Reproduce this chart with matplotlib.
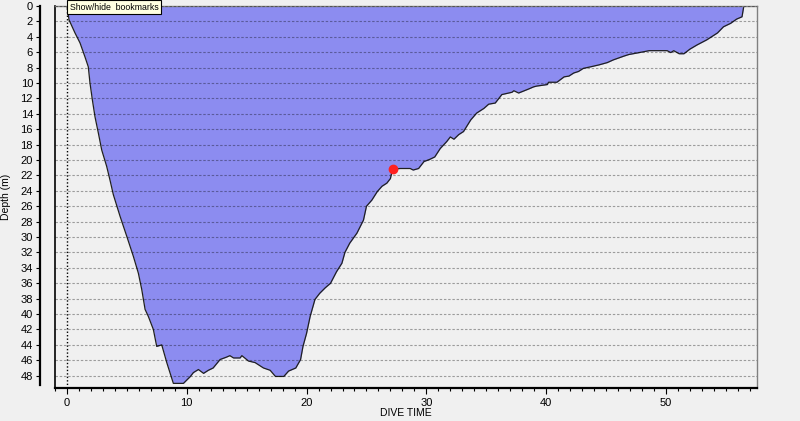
import matplotlib
matplotlib.use("Agg")
import matplotlib.pyplot as plt
from matplotlib.ticker import MultipleLocator
from matplotlib.lines import Line2D

plt.rcParams['font.family'] = ['Liberation Sans', 'DejaVu Sans']

# dive profile (minutes, metres)
dive_time = [0, 0.1, 0.17, 0.67, 1.09, 1.5, 1.78, 1.92, 2.12, 2.34, 2.62, 2.9, 3.31, 3.59, 3.87,
             4.43, 4.99, 5.54, 5.96, 6.24, 6.52, 6.79, 7.21, 7.49, 7.91, 8.33, 8.88, 9.72, 10.3,
             10.55, 10.97, 11.4, 11.8, 12.2, 12.78, 13.3, 13.6, 13.9, 14.45, 14.6, 15.15, 15.7,
             16.4, 16.96, 17.4, 18.1, 18.5, 19.1, 19.5, 19.7, 20.0, 20.3, 20.7, 21.1, 21.55,
             22.0, 22.5, 22.95, 23.2, 23.6, 24.2, 24.75, 25.0, 25.45, 25.9, 26.3, 26.7, 27.0,
             27.1, 27.25, 27.8, 28.65, 28.9, 29.35, 29.8, 30.3, 30.7, 31.16, 31.7, 32.0, 32.3,
             32.7, 33.1, 33.7, 34.2, 34.8, 35.2, 35.75, 36.3, 37.15, 37.3, 37.7, 38.5, 38.95,
             39.2, 40.1, 40.2, 40.9, 41.5, 41.9, 42.3, 42.7, 43.1, 43.7, 44.4, 45.1, 45.6,
             46.5, 46.9, 47.6, 48.6, 50.1, 50.4, 50.65, 51.1, 51.5, 52.0, 52.6, 53.4, 54.3,
             54.8, 55.4, 55.9, 56.35, 56.5]
depth = [0, 1.0, 1.8, 3.5, 4.8, 6.6, 7.9, 10.0, 12.2, 14.4, 16.5, 18.7, 20.8, 22.6, 24.5,
         27.3, 29.9, 32.5, 34.7, 36.8, 39.4, 40.3, 42.0, 44.2, 44.0, 46.3, 49.0, 49.0, 48.1,
         47.6, 47.2, 47.7, 47.3, 47.0, 45.9, 45.6, 45.4, 45.7, 45.7, 45.4, 46.1, 46.3,
         47.0, 47.3, 48.1, 48.1, 47.4, 47.0, 45.9, 44.2, 42.5, 40.3, 38.1, 37.3, 36.6,
         36.0, 34.5, 33.4, 32.0, 30.8, 29.5, 27.8, 26.0, 25.2, 24.1, 23.4, 23.0, 22.4,
         21.7, 21.2, 21.1, 21.1, 21.3, 21.1, 20.2, 19.9, 19.6, 18.5, 17.6, 17.0, 17.3,
         16.7, 16.3, 14.8, 13.9, 13.3, 12.75, 12.6, 11.5, 11.2, 11.0, 11.3, 10.8, 10.5,
         10.4, 10.2, 9.9, 9.9, 9.2, 9.1, 8.7, 8.5, 8.1, 7.9, 7.65, 7.35, 7.0,
         6.5, 6.3, 6.1, 5.8, 5.8, 6.05, 5.8, 6.2, 6.2, 5.6, 5.05, 4.4, 3.5,
         2.7, 2.25, 1.7, 1.4, 0]
assert len(dive_time) == len(depth)

bookmark_time = [27.25]
bookmark_depth = [21.2]

bg = '#f0f0f0'
fig = plt.figure(figsize=(8, 4.21), dpi=100, facecolor=bg)
ax = fig.add_axes([55/800, 33/421, 702/800, 382/421], facecolor=bg)

ax.fill_between(dive_time, 0, depth, color='#8c8cf0', lw=0, zorder=1)
ax.plot(dive_time, depth, color='#202020', lw=0.9, zorder=2)
ax.plot(bookmark_time, bookmark_depth, 'o', color='#ff2020', ms=6, mec='#ff2020', zorder=5)

ax.axvline(0, color='black', lw=1, ls=(0, (1, 1.5)), zorder=3)

ax.set_xlim(-1, 57.6)
ax.set_ylim(49.6, 0)

ax.xaxis.set_major_locator(MultipleLocator(10))
ax.xaxis.set_minor_locator(MultipleLocator(1))
ax.set_yticks(range(0, 49, 2))

ax.set_axisbelow(False)
ax.yaxis.grid(True, color='black', alpha=0.35, lw=0.8, ls=(0, (2.2, 1.6)), zorder=3)

ax.tick_params(axis='x', which='major', length=4, width=0.8, labelsize=8, pad=3)
ax.tick_params(axis='x', which='minor', length=2.5, width=0.8)
ax.tick_params(axis='y', length=3, width=0.8, labelsize=8, pad=2)

for s in ['top', 'right']:
    ax.spines[s].set_color('#808080')
    ax.spines[s].set_linewidth(1)
ax.spines['bottom'].set_color('black')
ax.spines['bottom'].set_linewidth(1.6)
ax.spines['left'].set_position(('outward', 10.8))
ax.spines['left'].set_linewidth(1.6)
ax.spines['left'].set_bounds(0, 49.2)

# plot box left edge (the depth axis sits outside it)
ax.add_line(Line2D([0, 0], [0, 1], transform=ax.transAxes, color='black', lw=1.2, clip_on=False))

ax.set_xlabel('DIVE TIME', fontsize=7.5, labelpad=0)
ax.set_ylabel('Depth (m)', fontsize=7.5, labelpad=7)

fig.text(70/800, 1 - 7/421, 'Show/hide  bookmarks', fontsize=6.3, va='center', ha='left',
         bbox=dict(boxstyle='square,pad=0.3', fc='#ffffe1', ec='black', lw=0.8), zorder=10)

fig.savefig('out.png', dpi=100, facecolor=bg)
